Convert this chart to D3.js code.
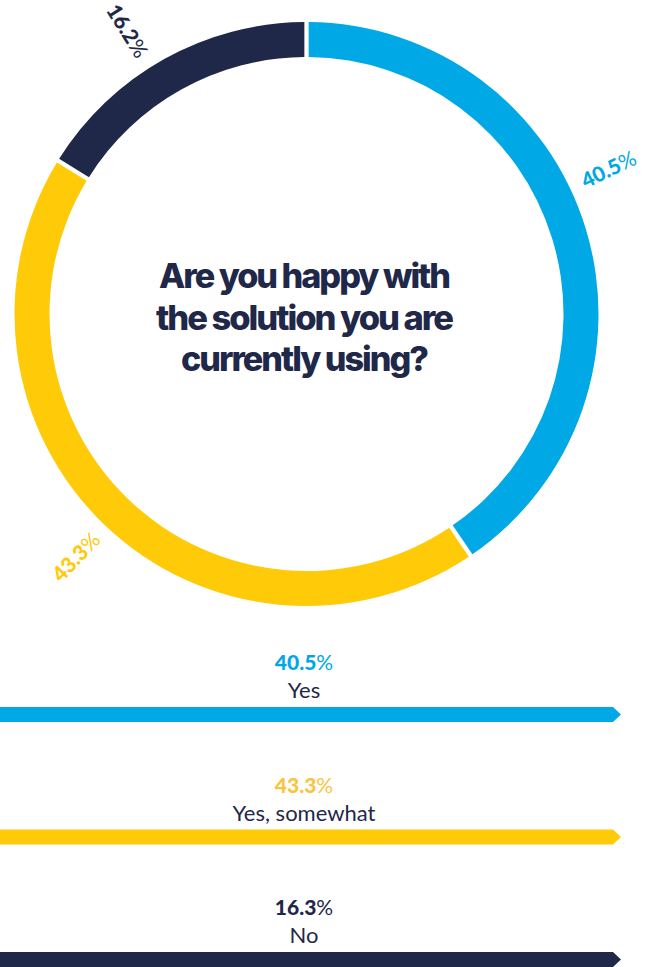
<!DOCTYPE html>
<html>
<head>
<meta charset="utf-8">
<script src="https://cdn.jsdelivr.net/npm/d3@7"></script>
<style>
  html, body { margin: 0; padding: 0; background: #ffffff; }
  svg { display: block; }
</style>
</head>
<body>
<div id="chart"></div>
<script>
// Survey answers
const categories = ["Yes", "Yes, somewhat", "No"];
const ringValues = [40.5, 43.3, 16.2];      // shares drawn on the ring
const legendValues = [40.5, 43.3, 16.3];    // shares printed in the legend
const colors = ["#00A9E6", "#FFCA08", "#1F2849"];
const legendNumberColors = ["#00A9E6", "#F8C53F", "#1F2849"];
const titleLines = ["Are you happy with", "the solution you are", "currently using?"];
const titleWidths = [290, 296, 246];
// where along each arc its value label sits (0 = start, 1 = end)
const labelAlong = [0.44, 0.5, 0.45];

const W = 645, H = 967;
const navy = "#1F2849";

const svg = d3.select("#chart").append("svg")
  .attr("width", W).attr("height", H);

// ---- ring ----
const cx = 306.5, cy = 314, outerR = 292, innerR = 257, labelR = 335;

const pie = d3.pie().sort(null).value(d => d);
const arcs = pie(ringValues);
const arc = d3.arc().innerRadius(innerR).outerRadius(outerR).padAngle(0.011);

const ring = svg.append("g").attr("transform", `translate(${cx},${cy})`);

ring.selectAll("path.slice")
  .data(arcs)
  .join("path")
  .attr("class", "slice")
  .attr("d", arc)
  .attr("fill", (d, i) => colors[i]);

// value labels run along the radius, flipped on the left so they read left-to-right
const labels = ring.selectAll("text.val")
  .data(arcs)
  .join("text")
  .attr("class", "val")
  .attr("text-anchor", "middle")
  .attr("dominant-baseline", "central")
  .attr("font-family", "Lato, 'Open Sans', sans-serif")
  .attr("font-size", 21)
  .attr("fill", (d, i) => colors[i])
  .attr("transform", (d, i) => {
    const a = d.startAngle + labelAlong[i] * (d.endAngle - d.startAngle);
    const deg = a * 180 / Math.PI;
    const x = labelR * Math.sin(a), y = -labelR * Math.cos(a);
    const rot = deg < 180 ? deg - 90 : deg + 90;
    return `translate(${x},${y}) rotate(${rot})`;
  });
labels.append("tspan").attr("font-weight", 900).text(d => d.data.toFixed(1));
labels.append("tspan").attr("font-weight", 400).text("%");

// ---- question in the middle ----
const titleBase = [288, 330, 371];
svg.append("g").selectAll("text")
  .data(titleLines)
  .join("text")
  .attr("x", 304)
  .attr("y", (d, i) => titleBase[i])
  .attr("text-anchor", "middle")
  .attr("font-family", "Inter, 'Liberation Sans', sans-serif")
  .attr("font-weight", 800)
  .attr("font-size", 34)
  .attr("letter-spacing", -2)
  .attr("fill", navy)
  .attr("textLength", (d, i) => titleWidths[i])
  .attr("lengthAdjust", "spacingAndGlyphs")
  .text(d => d);

// ---- legend ----
const y = d3.scalePoint().domain(categories).range([707, 952]);
const barH = 15, barEnd = 613, tip = 8, labelX = 304;

const legend = svg.append("g").selectAll("g")
  .data(categories)
  .join("g")
  .attr("transform", d => `translate(0,${y(d)})`);

legend.append("path")
  .attr("d", `M0,0 H${barEnd} L${barEnd + tip},${barH / 2} L${barEnd},${barH} H0 Z`)
  .attr("fill", (d, i) => colors[i]);

const pct = legend.append("text")
  .attr("x", labelX)
  .attr("y", -37)
  .attr("text-anchor", "middle")
  .attr("font-family", "Lato, 'Open Sans', sans-serif")
  .attr("font-size", 21)
  .attr("fill", (d, i) => legendNumberColors[i]);
pct.append("tspan").attr("font-weight", 900).text((d, i) => legendValues[i].toFixed(1));
pct.append("tspan").attr("font-weight", 400).text("%");

legend.append("text")
  .attr("x", labelX)
  .attr("y", -9)
  .attr("text-anchor", "middle")
  .attr("font-family", "Lato, 'Open Sans', sans-serif")
  .attr("font-size", 22)
  .attr("font-weight", 400)
  .attr("fill", navy)
  .text(d => d);
</script>
</body>
</html>
